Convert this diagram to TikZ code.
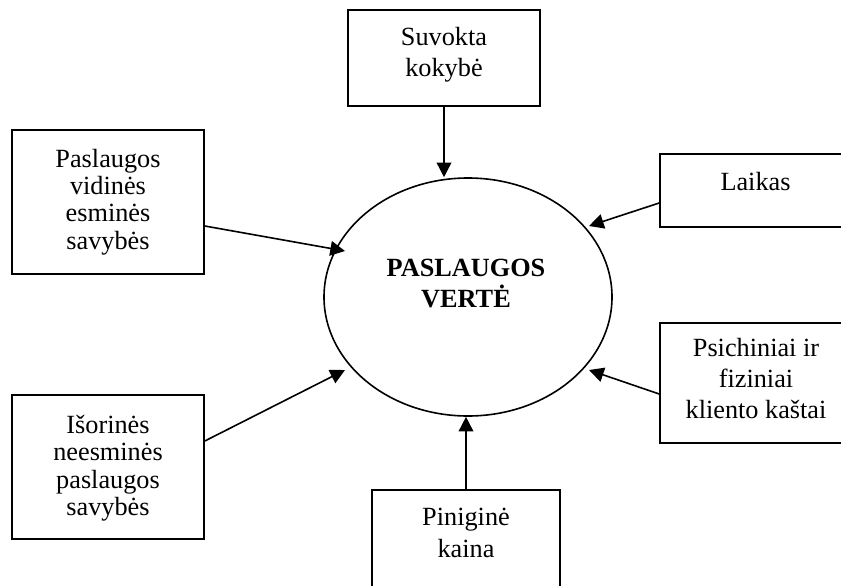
\documentclass[tikz,border=0pt]{standalone}
\usepackage{fontspec}
\setmainfont{Liberation Serif}
\usetikzlibrary{arrows.meta,calc,shapes.geometric}
\begin{document}
\begin{tikzpicture}[x=0.75pt,y=-0.75pt,
  box/.style={draw,line width=1.2pt,rectangle,inner sep=0pt},
  lbl/.style={align=center,inner sep=0pt,anchor=base,font=\fontsize{19.7}{#1}\selectfont},
  lbl/.default=20.5pt,
  core/.style={draw,ellipse,line width=1.2pt,inner sep=0pt,minimum width=216pt,minimum height=178.5pt},
  arr/.style={-{Triangle[length=11pt,width=11pt]},line width=1.2pt}]
\useasboundingbox (0,0) rectangle (841,585);
\clip (0,0) rectangle (841,585);

% central value ellipse (labels are placed by the baseline of their last line)
\node[core] (ell) at (468,297) {};
\node[lbl=23.25pt,font=\fontsize{19.7}{23.25pt}\selectfont\bfseries] (core) at (466,307) {PASLAUGOS\\VERTĖ};

% surrounding factor boxes
\node[box,minimum width=144pt,minimum height=72pt] (sq) at (444,58) {};
\node[lbl=23.25pt] (sqt) at (444,76) {Suvokta\\kokybė};

\node[box,minimum width=144pt,minimum height=108pt] (vid) at (108,202) {};
\node[lbl=20.5pt] (vidt) at (108,249) {Paslaugos\\vidinės\\esminės\\savybės};

\node[box,minimum width=143.25pt,minimum height=54.75pt] (lk) at (755.5,190.5) {};
\node[lbl] (lkt) at (755.5,190) {Laikas};

\node[box,minimum width=143.25pt,minimum height=90pt] (ps) at (755.5,383) {};
\node[lbl=22.9pt] (pst) at (756,418) {Psichiniai ir\\fiziniai\\kliento kaštai};

\node[box,minimum width=144pt,minimum height=108pt] (is) at (108,467) {};
\node[lbl=20.6pt] (ist) at (108,515.5) {Išorinės\\neesminės\\paslaugos\\savybės};

\node[box,minimum width=141pt,minimum height=86.25pt] (pk) at (466,547.5) {};
\node[lbl=24pt] (pkt) at (466,557) {Piniginė\\kaina};

% arrows into the ellipse
\draw[arr] (sq.south) -- (sq.south |- ell.north);
\draw[arr] (pk.north) -- (pk.north |- ell.south);
\draw[arr] ($(vid.east)+(0,24)$) -- ($(ell.center)+(-123,-46)$);
\draw[arr] ($(is.east)+(0,-26)$) -- ($(ell.center)+(-123,73)$);
\draw[arr] ($(lk.west)+(0,12.5)$) -- ($(ell.center)+(121,-71)$);
\draw[arr] ($(ps.west)+(0,11)$) -- ($(ell.center)+(121,73)$);
\end{tikzpicture}
\end{document}
